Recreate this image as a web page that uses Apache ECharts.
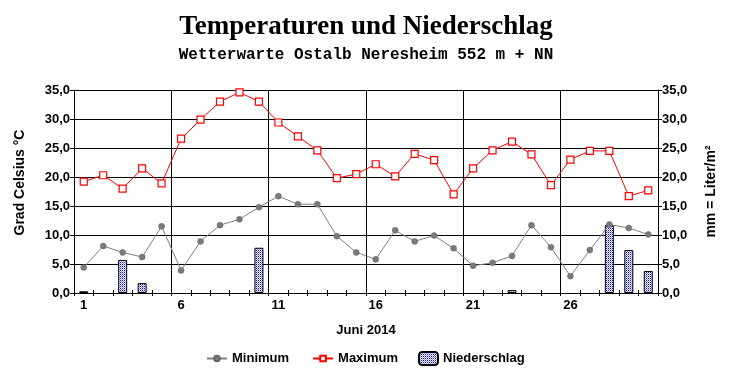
<!DOCTYPE html>
<html><head><meta charset="utf-8">
<script src="https://cdn.jsdelivr.net/npm/echarts@6/dist/echarts.min.js"></script>
<style>html,body{margin:0;padding:0;background:#fff}#c{width:732px;height:380px}</style>
</head><body><div id="c"></div>
<script>
const days = Array.from({length:30},(_,i)=>String(i+1));
const tMin = [4.4,8.1,7.0,6.2,11.5,3.9,8.9,11.7,12.7,14.8,16.7,15.3,15.3,9.8,7.0,5.8,10.8,8.9,9.9,7.7,4.7,5.2,6.4,11.7,7.9,2.9,7.4,11.8,11.2,10.1];
const tMax = [19.2,20.3,18.0,21.5,18.9,26.6,29.9,33.0,34.6,33.0,29.4,27.0,24.6,19.8,20.5,22.2,20.1,24.0,22.9,17.0,21.5,24.6,26.1,23.9,18.6,23.0,24.5,24.5,16.7,17.7];
const precip = [0.3,0,5.7,1.7,0,0,0,0,0,7.8,0,0,0,0,0,0,0,0,0,0,0,0,0.5,0,0,0,0,11.7,7.4,3.8];

const pc = document.createElement('canvas');
pc.width = 2; pc.height = 2;
const pctx = pc.getContext('2d');
pctx.fillStyle = '#ffffff'; pctx.fillRect(0,0,2,2);
pctx.fillStyle = '#0000ff'; pctx.fillRect(0,0,1,1);
pctx.fillStyle = '#9090ff'; pctx.fillRect(1,1,1,1);

const fmt = v => v.toFixed(1).replace('.', ',');
const F = 'Liberation Sans, Arial, sans-serif';
const lbl = {fontFamily:F, fontWeight:'bold', fontSize:13, color:'#000'};
const chart = echarts.init(document.getElementById('c'), null, {renderer:'canvas'});
chart.setOption({
  animation: false,
  backgroundColor: '#fff',
  title: [
    {text:'Temperaturen und Niederschlag', left:'center', top:9,
     textStyle:{fontFamily:'Liberation Serif, Times New Roman, serif', fontWeight:'bold', fontSize:27, color:'#000'}},
    {text:'Wetterwarte Ostalb Neresheim 552 m + NN', left:'center', top:42,
     textStyle:{fontFamily:'Liberation Mono, Courier New, monospace', fontWeight:'bold', fontSize:16, color:'#000'}}
  ],
  grid: {left:74, right:74, top:90, bottom:87},
  legend: [
    {left: 201, top: 347, itemGap: 23, itemWidth: 20, itemHeight: 7,
     textStyle: lbl, data:['Minimum','Maximum']},
    {left: 413, top: 346, itemWidth: 19, itemHeight: 13,
     textStyle: lbl, data:['Niederschlag']}
  ],
  xAxis: [
    {type:'category', data:days, boundaryGap:true,
     name:'Juni 2014', nameLocation:'middle', nameGap:31,
     nameTextStyle:lbl,
     axisLine:{lineStyle:{color:'#000', width:1}},
     axisTick:{show:true, interval:0, length:3, lineStyle:{color:'#000'}},
     axisLabel:Object.assign({interval:(i)=>i%5===0, margin:6}, lbl),
     splitLine:{show:true, interval:(i)=>i%5===0, lineStyle:{color:'#000', width:1}}
    },
    {type:'category', data:days, boundaryGap:true, position:'bottom',
     axisLine:{show:false}, axisLabel:{show:false}, splitLine:{show:false},
     axisTick:{show:true, inside:true, interval:0, length:3, lineStyle:{color:'#000'}}
    }
  ],
  yAxis: [
    {type:'value', min:0, max:35, interval:5, position:'left',
     name:'Grad Celsius °C', nameLocation:'middle', nameGap:47, nameRotate:90,
     nameTextStyle:Object.assign({}, lbl, {fontSize:14, padding:[0,0,0,18]}),
     axisLine:{show:true, lineStyle:{color:'#000'}},
     axisTick:{show:true, length:4, lineStyle:{color:'#000'}},
     axisLabel:Object.assign({margin:4, formatter:fmt}, lbl),
     splitLine:{show:true, lineStyle:{color:'#000', width:1}}
    },
    {type:'value', min:0, max:35, interval:5, position:'right',
     name:'mm = Liter/m²', nameLocation:'middle', nameGap:46, nameRotate:90,
     nameTextStyle:Object.assign({}, lbl, {fontSize:14}),
     axisLine:{show:true, lineStyle:{color:'#000'}},
     axisTick:{show:true, length:4, lineStyle:{color:'#000'}},
     axisLabel:Object.assign({margin:4, formatter:fmt}, lbl),
     splitLine:{show:false}
    }
  ],
  series: [
    {name:'Niederschlag', type:'bar', yAxisIndex:1, data:precip.map(v=>v>0?v:null), barWidth:9,
     itemStyle:{color:{image:pc, repeat:'repeat'}, borderColor:'#000', borderWidth:1}},
    {name:'Minimum', type:'line', data:tMin, symbol:'circle', symbolSize:6, z:3,
     lineStyle:{color:'#808080', width:1}, itemStyle:{color:'#7a7a7a', borderColor:'#666', borderWidth:0.5}},
    {name:'Maximum', type:'line', data:tMax, symbol:'rect', symbolSize:7, z:4,
     lineStyle:{color:'#ff0000', width:1}, itemStyle:{color:'#ffffff', borderColor:'#ff0000', borderWidth:1.2}}
  ]
});
</script></body></html>
